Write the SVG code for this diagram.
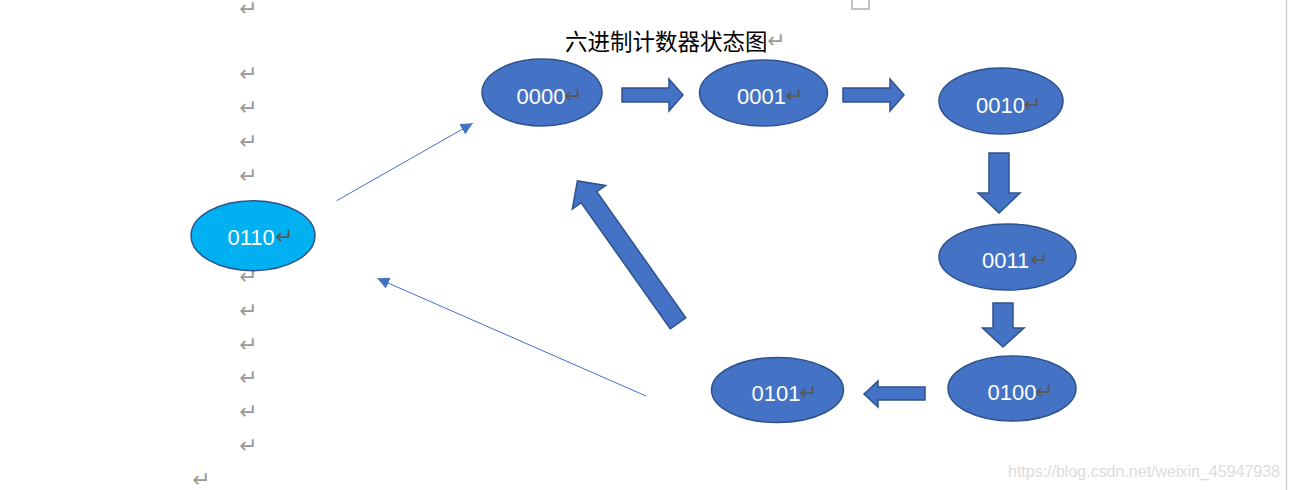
<svg xmlns="http://www.w3.org/2000/svg" width="1289" height="490" viewBox="0 0 1289 490">
<style>
.node{fill:#4472C4;stroke:#2F528F;stroke-width:1.5}
.node2{fill:#00B0F0;stroke:#2F528F;stroke-width:1.5}
.lbl{font-family:"Liberation Sans",Arial,sans-serif;font-size:22px;fill:#ffffff}
.ret{font-family:"DejaVu Sans",sans-serif;font-size:22px;fill:#999999}
.retn{font-family:"DejaVu Sans",sans-serif;font-size:22px;fill:#595959}
.blk{fill:#4472C4;stroke:#2F528F;stroke-width:1.5;stroke-linejoin:miter}
.thin{stroke:#4472C4;stroke-width:1;fill:none}
</style>
<defs>
<marker id="ah" markerUnits="userSpaceOnUse" markerWidth="12" markerHeight="12" refX="12" refY="6" orient="auto">
<path d="M0,0 L12,6 L0,12 z" fill="#4472C4"/>
</marker>
</defs>
<rect width="1289" height="490" fill="#ffffff"/>
<line x1="1286.5" y1="0" x2="1286.5" y2="490" stroke="#d0d0d0" stroke-width="1.5"/>
<rect x="852" y="-8" width="17" height="17" fill="none" stroke="#b0b0b0" stroke-width="1.5"/>
<g id="margin-marks">
<text class="ret" x="239" y="16">↵</text>
<text class="ret" x="239" y="81">↵</text>
<text class="ret" x="239" y="115">↵</text>
<text class="ret" x="239" y="149">↵</text>
<text class="ret" x="239" y="183">↵</text>
<text class="ret" x="239" y="284">↵</text>
<text class="ret" x="239" y="318">↵</text>
<text class="ret" x="239" y="352">↵</text>
<text class="ret" x="239" y="385">↵</text>
<text class="ret" x="239" y="419">↵</text>
<text class="ret" x="239" y="453">↵</text>
<text class="ret" x="192" y="487">↵</text>
</g>
<g id="title">
<text x="565" y="49.5" style="font-family:'Noto Sans CJK SC',sans-serif;font-size:22.5px;fill:#000000">六进制计数器状态图</text>
<text class="ret" x="767" y="48">↵</text>
</g>
<g id="connectors">
<polygon class="blk" points="622,88 669,88 669,79 683,95 669,111 669,102 622,102"/>
<polygon class="blk" points="843,88 890,88 890,79 904,95 890,111 890,102 843,102"/>
<polygon class="blk" points="989,153 1009,153 1009,193 1020,193 999,213 978,193 989,193"/>
<polygon class="blk" points="993,303 1013,303 1013,328 1024,328 1003,347 982.5,328 993,328"/>
<polygon class="blk" points="925,387 878,387 878,381 864,394 878,407 878,400 925,400"/>
<polygon class="blk" points="670.2,328.8 685.8,317.8 596.8,191.7 605.7,185.4 577.4,180.9 572.3,209 581.2,202.7"/>
<line class="thin" x1="336.7" y1="200.7" x2="472.7" y2="123.3" marker-end="url(#ah)"/>
<line class="thin" x1="646" y1="396" x2="377.3" y2="278.3" marker-end="url(#ah)"/>
</g>
<g id="n0000">
<ellipse class="node" cx="542" cy="92.5" rx="60" ry="33.5"/>
<text class="lbl" x="516.5" y="104">0000</text>
<text class="retn" x="564" y="103">↵</text>
</g>
<g id="n0001">
<ellipse class="node" cx="763.5" cy="93" rx="64" ry="33"/>
<text class="lbl" x="737" y="104">0001</text>
<text class="retn" x="785" y="103">↵</text>
</g>
<g id="n0010">
<ellipse class="node" cx="1001" cy="101" rx="62" ry="33"/>
<text class="lbl" x="976" y="112.5">0010</text>
<text class="retn" x="1023" y="111.5">↵</text>
</g>
<g id="n0011">
<ellipse class="node" cx="1007.5" cy="257" rx="68.5" ry="33"/>
<text class="lbl" x="982" y="268">0011</text>
<text class="retn" x="1030" y="267">↵</text>
</g>
<g id="n0100">
<ellipse class="node" cx="1012" cy="388.5" rx="64" ry="32.5"/>
<text class="lbl" x="987.5" y="399.5">0100</text>
<text class="retn" x="1035" y="398.5">↵</text>
</g>
<g id="n0101">
<ellipse class="node" cx="777.5" cy="390" rx="66" ry="32.5"/>
<text class="lbl" x="751.5" y="401">0101</text>
<text class="retn" x="799" y="400">↵</text>
</g>
<g id="n0110">
<ellipse class="node2" cx="253" cy="235.7" rx="62" ry="35"/>
<text class="lbl" x="227.5" y="245">0110</text>
<text class="retn" x="275" y="244">↵</text>
</g>
<text x="1008" y="477" textLength="272" style="font-family:'Liberation Sans',Arial,sans-serif;font-size:16px;fill:#dcdcdc">https://blog.csdn.net/weixin_45947938</text>
</svg>
